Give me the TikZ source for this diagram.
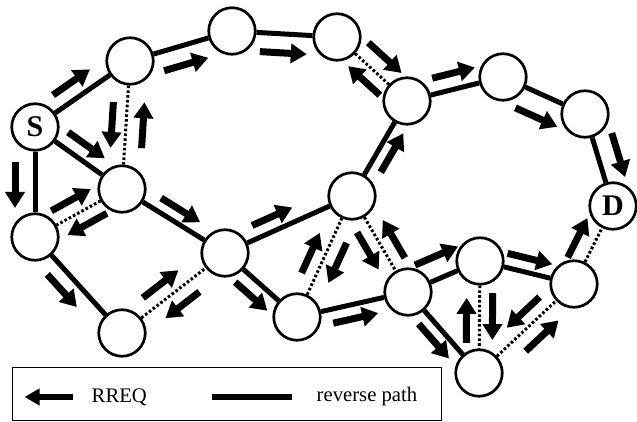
\documentclass[tikz,border=0pt]{standalone}
\usepackage{fontspec}
\setmainfont{Liberation Serif}
\usetikzlibrary{calc,arrows.meta}
\tikzset{
  station/.style={circle, draw, line width=2.7pt, fill=white, minimum size=46.5pt, inner sep=0pt},
  endlabel/.style={font=\bfseries\fontsize{30}{30}\selectfont},
  revpath/.style={line width=5pt},
  overheard/.style={line width=3pt, dash pattern=on 2.6pt off 2.2pt},
  rreqarrow/.style={line width=7pt, -{Triangle[length=16pt,width=19pt]}},
  legarrow/.style={line width=6pt, -{Triangle[length=15pt,width=16pt]}},
  legtext/.style={anchor=west, inner sep=0pt, font=\fontsize{20.7}{24}\selectfont}
}
% RREQ arrow running beside the link #1 -> #2, from distance #3 to #4 (pt) along it,
% shifted sideways by #5 (positive = left of the direction of travel)
\newcommand\rreq[5]{%
  \draw[rreqarrow] ($(#1)!#3pt!(#2)!#5pt!90:(#2)$) -- ($(#1)!#4pt!(#2)!#5pt!90:(#2)$);}
\begin{document}
\begin{tikzpicture}[x=1pt,y=-1pt]
\useasboundingbox (0,0) rectangle (637,422);

% stations
\node[station, endlabel] (S) at (35,127) {S};
\node[station] (A) at (130,61) {};
\node[station] (B) at (232,31) {};
\node[station] (C) at (337,37) {};
\node[station] (E) at (407,101) {};
\node[station] (F) at (503,77) {};
\node[station] (G) at (585,114) {};
\node[station, endlabel] (D) at (613,206) {D};
\node[station] (H) at (122,189) {};
\node[station] (I) at (35,237) {};
\node[station] (J) at (122,333) {};
\node[station] (K) at (225,253) {};
\node[station] (L) at (297,317) {};
\node[station] (M) at (352,196) {};
\node[station] (N) at (408,292) {};
\node[station] (O) at (480,261) {};
\node[station] (P) at (574,284) {};
\node[station] (Q) at (479,373) {};

% reverse path links
\foreach \u/\v in {S/A, A/B, B/C, S/H, S/I, I/J, H/K, K/M, M/E, E/F, F/G, G/D,
                   K/L, L/N, N/O, N/Q, O/P}
  \draw[revpath] (\u) -- (\v);

% overheard links
\foreach \u/\v in {C/E, A/H, H/I, J/K, L/M, M/N, O/Q, Q/P, P/D}
  \draw[overheard] (\u) -- (\v);

% RREQ propagation
\rreq{S}{A}{33}{78}{16}
\rreq{A}{B}{30}{76}{-19}
\rreq{B}{C}{29}{76}{-19}
\rreq{A}{H}{42}{88}{-14}
\rreq{H}{A}{42}{88}{-17}
\rreq{S}{H}{30}{75}{15}
\rreq{S}{I}{35}{81}{-20}
\rreq{I}{H}{27}{72}{15}
\rreq{H}{I}{25}{70}{14}
\rreq{H}{K}{38}{84}{13}
\rreq{K}{M}{36}{80}{14}
\rreq{I}{J}{36}{80}{-16}
\rreq{J}{K}{38}{83}{15}
\rreq{K}{J}{44}{87}{15}
\rreq{K}{L}{27}{70}{-15}
\rreq{L}{M}{42}{86}{14}
\rreq{M}{L}{45}{89}{14.5}
\rreq{M}{N}{34}{77}{-14}
\rreq{N}{M}{31}{75}{-14.5}
\rreq{L}{N}{34}{80}{-14}
\rreq{N}{O}{17}{64}{22}
\rreq{N}{Q}{31}{77}{-13}
\rreq{Q}{O}{30}{75}{13}
\rreq{O}{Q}{32}{79}{13}
\rreq{O}{P}{25}{71}{14}
\rreq{P}{Q}{34}{79}{-14}
\rreq{Q}{P}{49}{94}{-16}
\rreq{P}{D}{21}{65}{17.5}
\rreq{M}{E}{35}{80}{-13}
\rreq{E}{C}{24}{67}{14}
\rreq{C}{E}{27}{72}{17}
\rreq{E}{F}{30}{74}{16}
\rreq{F}{G}{24}{70}{-23}
\rreq{G}{D}{26}{72}{20}

% legend
\node[draw, line width=1pt, minimum width=429pt, minimum height=53pt, inner sep=0pt]
  (legend) at (226.5,394) {};
\coordinate (legA) at ([xshift=61pt,yshift=-3pt]legend.west);
\coordinate (legB) at ([xshift=13pt,yshift=-3pt]legend.west);
\draw[legarrow] (legA) -- (legB);
\node[legtext] (rreqtext) at ([xshift=80pt,yshift=-3pt]legend.west) {RREQ};
\coordinate (legC) at ([xshift=200pt,yshift=-3pt]legend.west);
\coordinate (legD) at ([xshift=280pt,yshift=-3pt]legend.west);
\draw[line width=6pt] (legC) -- (legD);
\node[legtext] (pathtext) at ([xshift=305pt,yshift=-3pt]legend.west) {reverse path};
\end{tikzpicture}
\end{document}
